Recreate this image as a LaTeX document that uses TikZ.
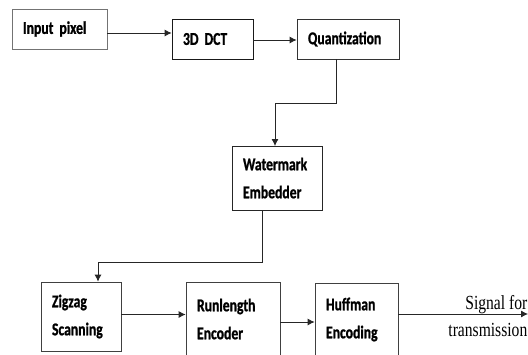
\documentclass[tikz,border=0pt]{standalone}
\usepackage{fontspec}
\usetikzlibrary{arrows.meta}
\newfontfamily\boxfont{Carlito}[FakeStretch=0.76,WordSpace=0.75,BoldFeatures={FakeBold=1}]
\newfontfamily\sigfont{Liberation Serif}[FakeStretch=0.78]
\begin{document}
\begin{tikzpicture}[x=1pt,y=-1pt,
  blk/.style={draw=black!85,line width=0.8pt,rectangle,inner xsep=0pt,inner ysep=0pt,
     font=\boxfont\bfseries\fontsize{18}{28}\selectfont,align=left},
  conn/.style={draw=black!85,line width=0.8pt,-{Latex[length=7pt,width=7pt]}}]
\useasboundingbox (0,0) rectangle (528,354);
\fill[white] (0,0) rectangle (528,354);
\newcommand{\blkat}[7]{% name, x1, y1, x2, y2, text, color
  \node[blk,draw=#7,minimum width={#4-#2},minimum height={#5-#3},
        text width={#4-#2-22}] (#1) at ({(#2+#4)/2},{(#3+#5)/2}) {#6};}
\blkat{inp}{12}{9}{107}{49}{Input pixel}{black!55}
\blkat{dct}{172}{19}{253}{59}{3D DCT}{black!90}
\blkat{quant}{297}{19}{399}{59}{Quantization}{black!80}
\blkat{wm}{232}{146}{322}{210}{Watermark\\Embedder}{black!85}
\blkat{zig}{41}{282}{121}{351}{Zigzag\\Scanning}{black!75}
\blkat{run}{186}{282}{280}{356}{Runlength\\Encoder}{black!75}
\blkat{huff}{315}{283}{398}{356}{Huffman\\Encoding}{black!75}
\node[anchor=east,align=right,inner sep=0pt,font=\sigfont\fontsize{20}{27}\selectfont] (sig) at (527.5,316) {Signal for\\transmission};
\coordinate (out) at (528,314);
\draw[conn] ([yshift=-4pt]inp.east) -- ([yshift=-4pt]inp.east -| dct.west);
\draw[conn] ([yshift=-1pt]dct.east) -- ([yshift=-1pt]dct.east -| quant.west);
\draw[conn] ([xshift=-12pt]quant.south) |- (275,103) -- (275,146);
\draw[conn] ([xshift=-15pt]wm.south) -- ([xshift=-15pt]wm.south |- 0,262) -| ([xshift=17pt]zig.north);
\draw[conn] ([yshift=2pt]zig.east) -- ([yshift=2pt]zig.east -| run.west);
\draw[conn] ([yshift=-3pt]run.east) -- ([yshift=-3pt]run.east -| huff.west);
\draw[conn] (huff.east |- out) -- (out);
\end{tikzpicture}
\end{document}
